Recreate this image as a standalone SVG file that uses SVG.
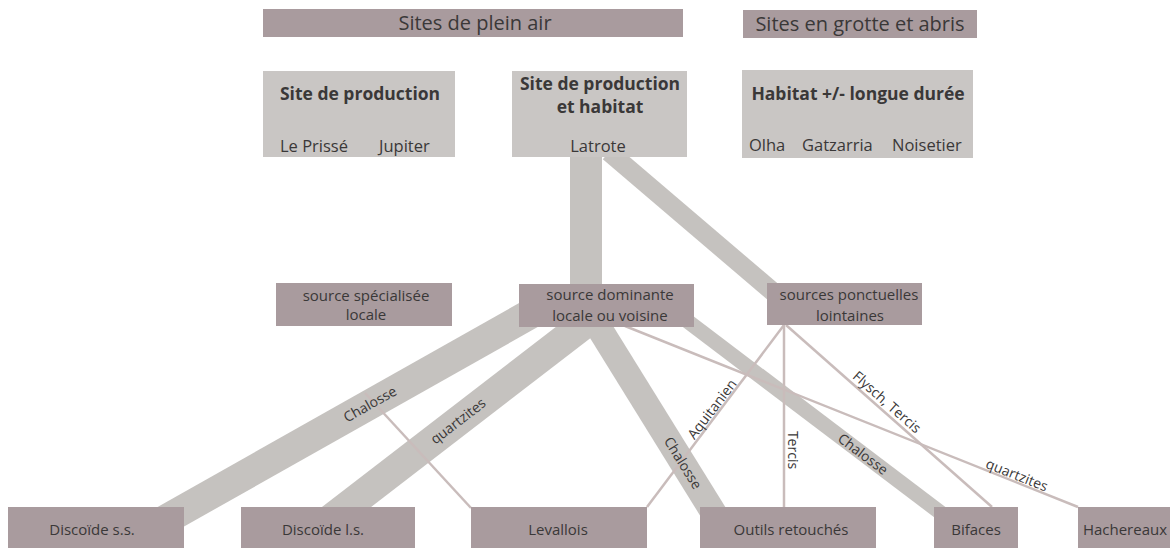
<svg xmlns="http://www.w3.org/2000/svg" width="1170" height="548" viewBox="0 0 1170 548">
<style>
  text { font-family: "Open Sans", "Noto Sans", "Liberation Sans", sans-serif; fill: #3a3838; }
  .hdr { fill: #a99b9e; }
  .site { fill: #c9c6c4; }
  .src { fill: #a99b9e; }
  .out { fill: #a99b9e; }
  .t20 { font-size: 20px; text-anchor: middle; }
  .tb { font-size: 17.5px; font-weight: bold; text-anchor: middle; }
  .tn { font-size: 16.5px; }
  .t15 { font-size: 15px; text-anchor: middle; }
  .lbl { font-size: 14px; text-anchor: middle; }
  .band { stroke: #c5c2bf; fill: none; stroke-linecap: butt; }
  .thin { stroke: #c9bcbb; stroke-width: 2.5; fill: none; }
</style>
<rect width="1170" height="548" fill="#ffffff"/>

<g id="connectors">
  <line class="band" x1="586" y1="150" x2="586" y2="300" stroke-width="32"/>
  <line class="band" x1="609" y1="152" x2="800" y2="315" stroke-width="19"/>
  <line class="band" x1="560" y1="297.2" x2="100" y2="556.7" stroke-width="30"/>
  <line class="band" x1="600" y1="311.8" x2="290.7" y2="550" stroke-width="30"/>
  <line class="band" x1="581.7" y1="300" x2="736.7" y2="550" stroke-width="26"/>
  <line class="band" x1="660" y1="300.3" x2="963.4" y2="530" stroke-width="15"/>
  <line class="thin" x1="365" y1="393" x2="471" y2="508"/>
  <line class="thin" x1="625" y1="326" x2="1078" y2="507"/>
  <line class="thin" x1="784" y1="325" x2="647" y2="507"/>
  <line class="thin" x1="784" y1="325" x2="784" y2="507"/>
  <line class="thin" x1="786" y1="325" x2="992" y2="507"/>
  <g id="edge-labels">
    <text class="lbl" transform="translate(370,404) rotate(-29.4)" y="5">Chalosse</text>
    <text class="lbl" transform="translate(458,421) rotate(-37.6)" y="5">quartzites</text>
    <text class="lbl" transform="translate(683,463) rotate(58.2)" y="5">Chalosse</text>
    <text class="lbl" transform="translate(863,454) rotate(37.1)" y="5">Chalosse</text>
    <text class="lbl" transform="translate(712,409) rotate(-52.7)" y="5">Aquitanien</text>
    <text class="lbl" transform="translate(793,450) rotate(90)" y="5">Tercis</text>
    <text class="lbl" transform="translate(887,402) rotate(41.4)" y="5">Flysch, Tercis</text>
    <text class="lbl" transform="translate(1017,475) rotate(21.7)" y="5">quartzites</text>
  </g>
</g>

<g id="hdr-plein-air">
  <rect class="hdr" x="263" y="9" width="420" height="28"/>
  <text class="t20" x="475" y="30">Sites de plein air</text>
</g>
<g id="hdr-grotte">
  <rect class="hdr" x="743" y="10" width="234" height="28"/>
  <text class="t20" x="860" y="31">Sites en grotte et abris</text>
</g>

<g id="site-production">
  <rect class="site" x="263" y="71" width="192" height="86"/>
  <text class="tb" x="360" y="100">Site de production</text>
  <text class="tn" x="280" y="152">Le Prissé</text>
  <text class="tn" x="379" y="152">Jupiter</text>
</g>
<g id="site-production-habitat">
  <rect class="site" x="512" y="71" width="175" height="86"/>
  <text class="tb" x="600" y="90">Site de production</text>
  <text class="tb" x="600" y="113">et habitat</text>
  <text class="tn" x="598" y="152" text-anchor="middle">Latrote</text>
</g>
<g id="habitat-longue-duree">
  <rect class="site" x="742" y="70" width="231" height="88"/>
  <text class="tb" x="858" y="100">Habitat +/- longue durée</text>
  <text class="tn" x="749" y="151">Olha</text>
  <text class="tn" x="802" y="151">Gatzarria</text>
  <text class="tn" x="892" y="151">Noisetier</text>
</g>

<g id="source-specialisee">
  <rect class="src" x="276" y="283" width="176" height="43"/>
  <text class="t15" x="366" y="301">source spécialisée</text>
  <text class="t15" x="366" y="320">locale</text>
</g>
<g id="source-dominante">
  <rect class="src" x="519" y="284" width="175" height="43"/>
  <text class="t15" x="610" y="300">source dominante</text>
  <text class="t15" x="610" y="321">locale ou voisine</text>
</g>
<g id="sources-ponctuelles">
  <rect class="src" x="767" y="283" width="155" height="42"/>
  <text class="t15" x="849" y="300">sources ponctuelles</text>
  <text class="t15" x="850" y="321">lointaines</text>
</g>

<g id="discoide-ss">
  <rect class="out" x="8" y="507" width="176" height="45"/>
  <text class="t15" x="92" y="535">Discoïde s.s.</text>
</g>
<g id="discoide-ls">
  <rect class="out" x="241" y="507" width="174" height="45"/>
  <text class="t15" x="323" y="535">Discoïde l.s.</text>
</g>
<g id="levallois">
  <rect class="out" x="471" y="507" width="176" height="45"/>
  <text class="t15" x="558" y="535">Levallois</text>
</g>
<g id="outils-retouches">
  <rect class="out" x="700" y="507" width="176" height="45"/>
  <text class="t15" x="791" y="535">Outils retouchés</text>
</g>
<g id="bifaces">
  <rect class="out" x="934" y="507" width="84" height="45"/>
  <text class="t15" x="976" y="535">Bifaces</text>
</g>
<g id="hachereaux">
  <rect class="out" x="1078" y="507" width="95" height="45"/>
  <text class="t15" x="1125" y="535">Hachereaux</text>
</g>
</svg>
